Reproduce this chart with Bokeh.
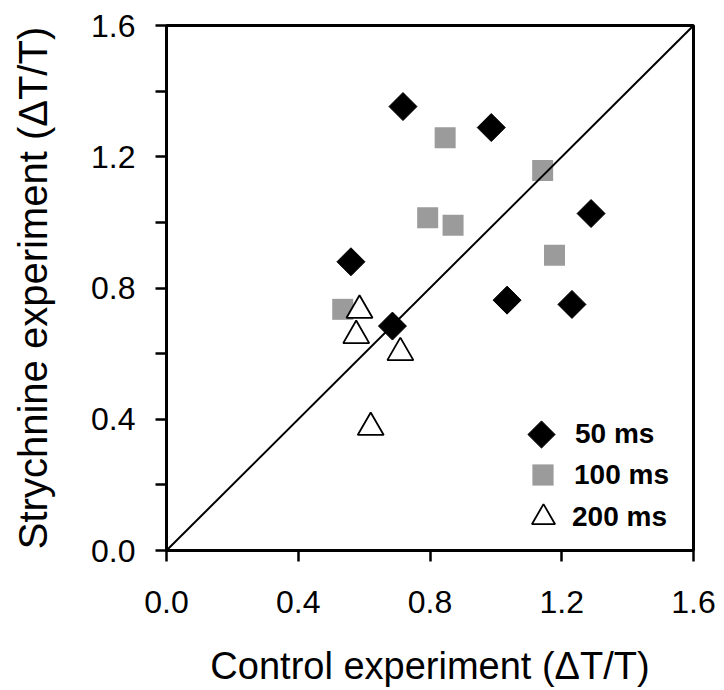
import math
from bokeh.plotting import figure
from bokeh.models import Range1d, FixedTicker, PrintfTickFormatter, Legend, LegendItem
from bokeh.embed import file_html
from bokeh.resources import INLINE

# ---- data ----
control_50 = [0.718, 0.986, 1.289, 0.560, 1.034, 1.231, 0.686]
strych_50 = [1.353, 1.289, 1.027, 0.880, 0.763, 0.750, 0.684]

control_100 = [0.846, 1.142, 0.793, 0.870, 1.178, 0.535]
strych_100 = [1.258, 1.158, 1.014, 0.991, 0.900, 0.735]

control_200 = [0.586, 0.576, 0.710, 0.620]
strych_200 = [0.732, 0.655, 0.603, 0.375]

series_labels = ["50 ms", "100 ms", "200 ms"]
identity_line = [0.0, 1.6]
major_ticks = [0.0, 0.4, 0.8, 1.2, 1.6]
minor_ticks_y = [0.2, 0.6, 1.0, 1.4]
x_title = "Control experiment (\u0394T/T)"
y_title = "Strychnine experiment (\u0394T/T)"

FONT = "Liberation Sans"

p = figure(width=724, height=690, output_backend="svg", toolbar_location=None,
           x_range=Range1d(0, 1.6), y_range=Range1d(0, 1.6),
           min_border_left=166, min_border_right=31, min_border_top=25,
           min_border_bottom=140)
p.grid.visible = False
p.background_fill_color = "white"
p.border_fill_color = "white"
p.outline_line_color = "black"
p.outline_line_width = 3

for ax in (p.xaxis[0], p.yaxis[0]):
    ax.axis_line_color = "black"
    ax.axis_line_width = 3
    ax.major_tick_out = 11
    ax.major_tick_in = 0
    ax.major_tick_line_width = 2.5
    ax.major_tick_line_color = "black"
    ax.minor_tick_out = 11
    ax.minor_tick_in = 0
    ax.minor_tick_line_width = 2.5
    ax.minor_tick_line_color = "black"
    ax.major_label_text_font = FONT
    ax.major_label_text_font_size = "32px"
    ax.major_label_text_color = "black"
    ax.axis_label_text_font = FONT
    ax.axis_label_text_font_style = "normal"
    ax.axis_label_text_color = "black"
    ax.formatter = PrintfTickFormatter(format="%.1f")

p.xaxis[0].ticker = FixedTicker(ticks=major_ticks, minor_ticks=[])
p.yaxis[0].ticker = FixedTicker(ticks=major_ticks, minor_ticks=minor_ticks_y)

p.xaxis[0].major_label_standoff = 29
p.yaxis[0].major_label_standoff = 20

p.xaxis[0].axis_label = x_title
p.xaxis[0].axis_label_text_font_size = "38px"
p.xaxis[0].axis_label_standoff = 29

p.yaxis[0].axis_label = y_title
p.yaxis[0].axis_label_text_font_size = "40px"
p.yaxis[0].axis_label_standoff = 33

r50 = p.ngon(x=control_50, y=strych_50, radius=14, radius_units="screen", n=4,
             fill_color="black", line_color="black", line_width=1)
r100 = p.scatter(control_100, strych_100, marker="square", size=21,
                 fill_color="#9b9b9b", line_color=None)
r200 = p.scatter(control_200, strych_200, marker="triangle", size=26,
                 fill_color="white", line_color="black", line_width=1.8)
p.line(identity_line, identity_line, line_color="black", line_width=2)

legend_style = dict(orientation="vertical", padding=0, margin=0, spacing=0,
                    background_fill_alpha=0, border_line_alpha=0,
                    label_text_font=FONT, label_text_font_size="28px",
                    label_text_font_style="bold", label_text_color="black")

p.add_layout(Legend(items=[LegendItem(label=series_labels[0], renderers=[r50])],
                    location=(341, 82), glyph_width=68, glyph_height=68,
                    label_standoff=0, **legend_style))
p.add_layout(Legend(items=[LegendItem(label=series_labels[1], renderers=[r100])],
                    location=(350, 49), glyph_width=53, glyph_height=53,
                    label_standoff=5, **legend_style))
p.add_layout(Legend(items=[LegendItem(label=series_labels[2], renderers=[r200])],
                    location=(348, 4), glyph_width=58, glyph_height=58,
                    label_standoff=0, **legend_style))

open("out.html", "w").write(file_html(p, INLINE))
